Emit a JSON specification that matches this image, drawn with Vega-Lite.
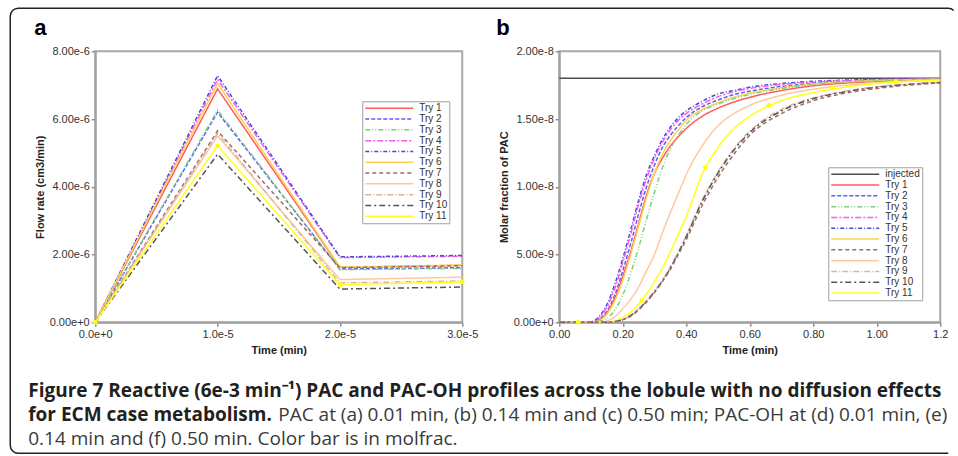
{
  "$schema": "https://vega.github.io/schema/vega-lite/v6.json",
  "background": "white",
  "padding": {"left": 9.25, "top": 7.25, "right": 0, "bottom": 0},
  "bounds": "flush",
  "columns": 2,
  "spacing": {"row": 40, "column": 97},
  "config": {
    "view": {"stroke": "#a8a8a8", "strokeWidth": 2},
    "axis": {
      "domainColor": "#a0a0a0", "domainWidth": 2, "tickColor": "#909090", "tickWidth": 1.5, "tickSize": 4,
      "labelFont": "Liberation Sans", "labelFontSize": 11, "labelColor": "#333333", "labelPadding": 2,
      "labelFlush": false, "labelOverlap": false,
      "titleFont": "Liberation Sans", "titleFontSize": 11, "titleFontWeight": "bold", "titleColor": "#222222",
      "grid": false
    },
    "title": {"font": "Liberation Sans", "fontSize": 22, "fontWeight": "bold", "color": "#000000", "anchor": "start", "baseline": "alphabetic"},
    "line": {"strokeWidth": 1.5}
  },
  "resolve": {
    "scale": {"color": "independent", "strokeDash": "independent"},
    "legend": {"color": "independent", "strokeDash": "independent"}
  },
  "datasets": {
    "flow": [
      {"s": "Try 1", "t": 0, "q": 0}, {"s": "Try 1", "t": 1e-5, "q": 6.89e-6}, {"s": "Try 1", "t": 2e-5, "q": 1.62e-6}, {"s": "Try 1", "t": 3e-5, "q": 1.68e-6},
      {"s": "Try 2", "t": 0, "q": 0}, {"s": "Try 2", "t": 1e-5, "q": 6.2e-6}, {"s": "Try 2", "t": 2e-5, "q": 1.57e-6}, {"s": "Try 2", "t": 3e-5, "q": 1.61e-6},
      {"s": "Try 3", "t": 0, "q": 0}, {"s": "Try 3", "t": 1e-5, "q": 6.26e-6}, {"s": "Try 3", "t": 2e-5, "q": 1.55e-6}, {"s": "Try 3", "t": 3e-5, "q": 1.59e-6},
      {"s": "Try 4", "t": 0, "q": 0}, {"s": "Try 4", "t": 1e-5, "q": 7.17e-6}, {"s": "Try 4", "t": 2e-5, "q": 1.91e-6}, {"s": "Try 4", "t": 3e-5, "q": 1.95e-6},
      {"s": "Try 5", "t": 0, "q": 0}, {"s": "Try 5", "t": 1e-5, "q": 7.28e-6}, {"s": "Try 5", "t": 2e-5, "q": 1.93e-6}, {"s": "Try 5", "t": 3e-5, "q": 1.97e-6},
      {"s": "Try 6", "t": 0, "q": 0}, {"s": "Try 6", "t": 1e-5, "q": 7.05e-6}, {"s": "Try 6", "t": 2e-5, "q": 1.63e-6}, {"s": "Try 6", "t": 3e-5, "q": 1.69e-6},
      {"s": "Try 7", "t": 0, "q": 0}, {"s": "Try 7", "t": 1e-5, "q": 5.65e-6}, {"s": "Try 7", "t": 2e-5, "q": 1.61e-6}, {"s": "Try 7", "t": 3e-5, "q": 1.67e-6},
      {"s": "Try 8", "t": 0, "q": 0}, {"s": "Try 8", "t": 1e-5, "q": 5.5e-6}, {"s": "Try 8", "t": 2e-5, "q": 1.26e-6}, {"s": "Try 8", "t": 3e-5, "q": 1.33e-6},
      {"s": "Try 9", "t": 0, "q": 0}, {"s": "Try 9", "t": 1e-5, "q": 5.58e-6}, {"s": "Try 9", "t": 2e-5, "q": 1.16e-6}, {"s": "Try 9", "t": 3e-5, "q": 1.22e-6},
      {"s": "Try 10", "t": 0, "q": 0}, {"s": "Try 10", "t": 1e-5, "q": 4.96e-6}, {"s": "Try 10", "t": 2e-5, "q": 0.98e-6}, {"s": "Try 10", "t": 3e-5, "q": 1.04e-6},
      {"s": "Try 11", "t": 0, "q": 0}, {"s": "Try 11", "t": 1e-5, "q": 5.21e-6}, {"s": "Try 11", "t": 2e-5, "q": 1.11e-6}, {"s": "Try 11", "t": 3e-5, "q": 1.19e-6}
    ],
    "pac": [
      {"s": "injected", "t": 0, "m": 18e-9}, {"s": "injected", "t": 1.2, "m": 18e-9},
      {"s": "Try 5", "t": 0, "m": 0}, {"s": "Try 5", "t": 0.05, "m": 0}, {"s": "Try 5", "t": 0.1, "m": 0.05e-9}, {"s": "Try 5", "t": 0.125, "m": 0.4e-9}, {"s": "Try 5", "t": 0.15, "m": 1.3e-9}, {"s": "Try 5", "t": 0.175, "m": 2.8e-9}, {"s": "Try 5", "t": 0.2, "m": 4.7e-9}, {"s": "Try 5", "t": 0.225, "m": 6.8e-9}, {"s": "Try 5", "t": 0.25, "m": 9.0e-9}, {"s": "Try 5", "t": 0.275, "m": 10.9e-9}, {"s": "Try 5", "t": 0.3, "m": 12.3e-9}, {"s": "Try 5", "t": 0.325, "m": 13.5e-9}, {"s": "Try 5", "t": 0.35, "m": 14.4e-9}, {"s": "Try 5", "t": 0.375, "m": 15.1e-9}, {"s": "Try 5", "t": 0.4, "m": 15.6e-9}, {"s": "Try 5", "t": 0.45, "m": 16.3e-9}, {"s": "Try 5", "t": 0.5, "m": 16.85e-9}, {"s": "Try 5", "t": 0.55, "m": 17.1e-9}, {"s": "Try 5", "t": 0.6, "m": 17.35e-9}, {"s": "Try 5", "t": 0.7, "m": 17.62e-9}, {"s": "Try 5", "t": 0.8, "m": 17.78e-9}, {"s": "Try 5", "t": 0.9, "m": 17.87e-9}, {"s": "Try 5", "t": 1.0, "m": 17.92e-9}, {"s": "Try 5", "t": 1.1, "m": 17.95e-9}, {"s": "Try 5", "t": 1.2, "m": 17.97e-9},
      {"s": "Try 4", "t": 0, "m": 0}, {"s": "Try 4", "t": 0.05, "m": 0}, {"s": "Try 4", "t": 0.1, "m": 0.03e-9}, {"s": "Try 4", "t": 0.125, "m": 0.3e-9}, {"s": "Try 4", "t": 0.15, "m": 1.1e-9}, {"s": "Try 4", "t": 0.175, "m": 2.5e-9}, {"s": "Try 4", "t": 0.2, "m": 4.4e-9}, {"s": "Try 4", "t": 0.225, "m": 6.5e-9}, {"s": "Try 4", "t": 0.25, "m": 8.7e-9}, {"s": "Try 4", "t": 0.275, "m": 10.6e-9}, {"s": "Try 4", "t": 0.3, "m": 12.1e-9}, {"s": "Try 4", "t": 0.325, "m": 13.3e-9}, {"s": "Try 4", "t": 0.35, "m": 14.2e-9}, {"s": "Try 4", "t": 0.375, "m": 14.9e-9}, {"s": "Try 4", "t": 0.4, "m": 15.4e-9}, {"s": "Try 4", "t": 0.45, "m": 16.1e-9}, {"s": "Try 4", "t": 0.5, "m": 16.65e-9}, {"s": "Try 4", "t": 0.55, "m": 17.0e-9}, {"s": "Try 4", "t": 0.6, "m": 17.25e-9}, {"s": "Try 4", "t": 0.7, "m": 17.55e-9}, {"s": "Try 4", "t": 0.8, "m": 17.72e-9}, {"s": "Try 4", "t": 0.9, "m": 17.83e-9}, {"s": "Try 4", "t": 1.0, "m": 17.9e-9}, {"s": "Try 4", "t": 1.1, "m": 17.94e-9}, {"s": "Try 4", "t": 1.2, "m": 17.96e-9},
      {"s": "Try 2", "t": 0, "m": 0}, {"s": "Try 2", "t": 0.05, "m": 0}, {"s": "Try 2", "t": 0.1, "m": 0.02e-9}, {"s": "Try 2", "t": 0.125, "m": 0.2e-9}, {"s": "Try 2", "t": 0.15, "m": 0.8e-9}, {"s": "Try 2", "t": 0.175, "m": 2.0e-9}, {"s": "Try 2", "t": 0.2, "m": 3.8e-9}, {"s": "Try 2", "t": 0.225, "m": 5.8e-9}, {"s": "Try 2", "t": 0.25, "m": 8.0e-9}, {"s": "Try 2", "t": 0.275, "m": 10.0e-9}, {"s": "Try 2", "t": 0.3, "m": 11.6e-9}, {"s": "Try 2", "t": 0.325, "m": 12.9e-9}, {"s": "Try 2", "t": 0.35, "m": 13.8e-9}, {"s": "Try 2", "t": 0.375, "m": 14.5e-9}, {"s": "Try 2", "t": 0.4, "m": 15.1e-9}, {"s": "Try 2", "t": 0.45, "m": 15.9e-9}, {"s": "Try 2", "t": 0.5, "m": 16.4e-9}, {"s": "Try 2", "t": 0.55, "m": 16.8e-9}, {"s": "Try 2", "t": 0.6, "m": 17.05e-9}, {"s": "Try 2", "t": 0.7, "m": 17.4e-9}, {"s": "Try 2", "t": 0.8, "m": 17.62e-9}, {"s": "Try 2", "t": 0.9, "m": 17.76e-9}, {"s": "Try 2", "t": 1.0, "m": 17.85e-9}, {"s": "Try 2", "t": 1.1, "m": 17.91e-9}, {"s": "Try 2", "t": 1.2, "m": 17.94e-9},
      {"s": "Try 1", "t": 0, "m": 0}, {"s": "Try 1", "t": 0.05, "m": 0}, {"s": "Try 1", "t": 0.1, "m": 0.01e-9}, {"s": "Try 1", "t": 0.125, "m": 0.15e-9}, {"s": "Try 1", "t": 0.15, "m": 0.7e-9}, {"s": "Try 1", "t": 0.175, "m": 1.8e-9}, {"s": "Try 1", "t": 0.2, "m": 3.4e-9}, {"s": "Try 1", "t": 0.225, "m": 5.2e-9}, {"s": "Try 1", "t": 0.25, "m": 7.3e-9}, {"s": "Try 1", "t": 0.275, "m": 9.4e-9}, {"s": "Try 1", "t": 0.3, "m": 11.0e-9}, {"s": "Try 1", "t": 0.325, "m": 12.1e-9}, {"s": "Try 1", "t": 0.35, "m": 13.0e-9}, {"s": "Try 1", "t": 0.375, "m": 13.7e-9}, {"s": "Try 1", "t": 0.4, "m": 14.3e-9}, {"s": "Try 1", "t": 0.45, "m": 15.2e-9}, {"s": "Try 1", "t": 0.5, "m": 15.8e-9}, {"s": "Try 1", "t": 0.55, "m": 16.25e-9}, {"s": "Try 1", "t": 0.6, "m": 16.6e-9}, {"s": "Try 1", "t": 0.7, "m": 17.1e-9}, {"s": "Try 1", "t": 0.8, "m": 17.45e-9}, {"s": "Try 1", "t": 0.9, "m": 17.65e-9}, {"s": "Try 1", "t": 1.0, "m": 17.78e-9}, {"s": "Try 1", "t": 1.1, "m": 17.86e-9}, {"s": "Try 1", "t": 1.2, "m": 17.91e-9},
      {"s": "Try 6", "t": 0, "m": 0}, {"s": "Try 6", "t": 0.05, "m": 0}, {"s": "Try 6", "t": 0.1, "m": 0.01e-9}, {"s": "Try 6", "t": 0.125, "m": 0.12e-9}, {"s": "Try 6", "t": 0.15, "m": 0.6e-9}, {"s": "Try 6", "t": 0.175, "m": 1.6e-9}, {"s": "Try 6", "t": 0.2, "m": 3.1e-9}, {"s": "Try 6", "t": 0.225, "m": 5.0e-9}, {"s": "Try 6", "t": 0.25, "m": 7.1e-9}, {"s": "Try 6", "t": 0.275, "m": 9.2e-9}, {"s": "Try 6", "t": 0.3, "m": 11.0e-9}, {"s": "Try 6", "t": 0.325, "m": 12.4e-9}, {"s": "Try 6", "t": 0.35, "m": 13.4e-9}, {"s": "Try 6", "t": 0.375, "m": 14.2e-9}, {"s": "Try 6", "t": 0.4, "m": 14.9e-9}, {"s": "Try 6", "t": 0.45, "m": 15.7e-9}, {"s": "Try 6", "t": 0.5, "m": 16.2e-9}, {"s": "Try 6", "t": 0.55, "m": 16.6e-9}, {"s": "Try 6", "t": 0.6, "m": 16.9e-9}, {"s": "Try 6", "t": 0.7, "m": 17.3e-9}, {"s": "Try 6", "t": 0.8, "m": 17.58e-9}, {"s": "Try 6", "t": 0.9, "m": 17.74e-9}, {"s": "Try 6", "t": 1.0, "m": 17.84e-9}, {"s": "Try 6", "t": 1.1, "m": 17.9e-9}, {"s": "Try 6", "t": 1.2, "m": 17.94e-9},
      {"s": "Try 3", "t": 0, "m": 0}, {"s": "Try 3", "t": 0.05, "m": 0}, {"s": "Try 3", "t": 0.1, "m": 0}, {"s": "Try 3", "t": 0.125, "m": 0.06e-9}, {"s": "Try 3", "t": 0.15, "m": 0.3e-9}, {"s": "Try 3", "t": 0.175, "m": 0.9e-9}, {"s": "Try 3", "t": 0.2, "m": 2.0e-9}, {"s": "Try 3", "t": 0.225, "m": 3.6e-9}, {"s": "Try 3", "t": 0.25, "m": 5.5e-9}, {"s": "Try 3", "t": 0.275, "m": 7.6e-9}, {"s": "Try 3", "t": 0.3, "m": 9.6e-9}, {"s": "Try 3", "t": 0.325, "m": 11.4e-9}, {"s": "Try 3", "t": 0.35, "m": 12.8e-9}, {"s": "Try 3", "t": 0.375, "m": 13.8e-9}, {"s": "Try 3", "t": 0.4, "m": 14.6e-9}, {"s": "Try 3", "t": 0.45, "m": 15.6e-9}, {"s": "Try 3", "t": 0.5, "m": 16.1e-9}, {"s": "Try 3", "t": 0.55, "m": 16.5e-9}, {"s": "Try 3", "t": 0.6, "m": 16.8e-9}, {"s": "Try 3", "t": 0.7, "m": 17.25e-9}, {"s": "Try 3", "t": 0.8, "m": 17.55e-9}, {"s": "Try 3", "t": 0.9, "m": 17.72e-9}, {"s": "Try 3", "t": 1.0, "m": 17.82e-9}, {"s": "Try 3", "t": 1.1, "m": 17.89e-9}, {"s": "Try 3", "t": 1.2, "m": 17.93e-9},
      {"s": "Try 8", "t": 0, "m": 0}, {"s": "Try 8", "t": 0.05, "m": 0}, {"s": "Try 8", "t": 0.1, "m": 0}, {"s": "Try 8", "t": 0.125, "m": 0}, {"s": "Try 8", "t": 0.15, "m": 0.1e-9}, {"s": "Try 8", "t": 0.175, "m": 0.4e-9}, {"s": "Try 8", "t": 0.2, "m": 1.0e-9}, {"s": "Try 8", "t": 0.225, "m": 1.7e-9}, {"s": "Try 8", "t": 0.25, "m": 2.6e-9}, {"s": "Try 8", "t": 0.275, "m": 3.8e-9}, {"s": "Try 8", "t": 0.3, "m": 5.0e-9}, {"s": "Try 8", "t": 0.325, "m": 6.6e-9}, {"s": "Try 8", "t": 0.35, "m": 8.1e-9}, {"s": "Try 8", "t": 0.375, "m": 9.5e-9}, {"s": "Try 8", "t": 0.4, "m": 10.9e-9}, {"s": "Try 8", "t": 0.45, "m": 13.0e-9}, {"s": "Try 8", "t": 0.5, "m": 14.5e-9}, {"s": "Try 8", "t": 0.55, "m": 15.4e-9}, {"s": "Try 8", "t": 0.6, "m": 16.0e-9}, {"s": "Try 8", "t": 0.7, "m": 16.75e-9}, {"s": "Try 8", "t": 0.8, "m": 17.2e-9}, {"s": "Try 8", "t": 0.9, "m": 17.48e-9}, {"s": "Try 8", "t": 1.0, "m": 17.66e-9}, {"s": "Try 8", "t": 1.1, "m": 17.78e-9}, {"s": "Try 8", "t": 1.2, "m": 17.86e-9},
      {"s": "Try 11", "t": 0, "m": 0}, {"s": "Try 11", "t": 0.05, "m": 0}, {"s": "Try 11", "t": 0.1, "m": 0}, {"s": "Try 11", "t": 0.125, "m": 0}, {"s": "Try 11", "t": 0.15, "m": 0}, {"s": "Try 11", "t": 0.175, "m": 0.1e-9}, {"s": "Try 11", "t": 0.2, "m": 0.35e-9}, {"s": "Try 11", "t": 0.225, "m": 0.75e-9}, {"s": "Try 11", "t": 0.25, "m": 1.35e-9}, {"s": "Try 11", "t": 0.275, "m": 2.1e-9}, {"s": "Try 11", "t": 0.3, "m": 3.0e-9}, {"s": "Try 11", "t": 0.325, "m": 4.0e-9}, {"s": "Try 11", "t": 0.35, "m": 5.2e-9}, {"s": "Try 11", "t": 0.375, "m": 6.5e-9}, {"s": "Try 11", "t": 0.4, "m": 7.8e-9}, {"s": "Try 11", "t": 0.45, "m": 10.9e-9}, {"s": "Try 11", "t": 0.5, "m": 12.9e-9}, {"s": "Try 11", "t": 0.55, "m": 14.3e-9}, {"s": "Try 11", "t": 0.6, "m": 15.2e-9}, {"s": "Try 11", "t": 0.7, "m": 16.35e-9}, {"s": "Try 11", "t": 0.8, "m": 16.95e-9}, {"s": "Try 11", "t": 0.9, "m": 17.35e-9}, {"s": "Try 11", "t": 1.0, "m": 17.62e-9}, {"s": "Try 11", "t": 1.1, "m": 17.78e-9}, {"s": "Try 11", "t": 1.2, "m": 17.87e-9},
      {"s": "Try 9", "t": 0, "m": 0}, {"s": "Try 9", "t": 0.05, "m": 0}, {"s": "Try 9", "t": 0.1, "m": 0}, {"s": "Try 9", "t": 0.125, "m": 0}, {"s": "Try 9", "t": 0.15, "m": 0}, {"s": "Try 9", "t": 0.175, "m": 0.05e-9}, {"s": "Try 9", "t": 0.2, "m": 0.2e-9}, {"s": "Try 9", "t": 0.225, "m": 0.5e-9}, {"s": "Try 9", "t": 0.25, "m": 1.0e-9}, {"s": "Try 9", "t": 0.275, "m": 1.6e-9}, {"s": "Try 9", "t": 0.3, "m": 2.3e-9}, {"s": "Try 9", "t": 0.325, "m": 3.1e-9}, {"s": "Try 9", "t": 0.35, "m": 4.1e-9}, {"s": "Try 9", "t": 0.375, "m": 5.2e-9}, {"s": "Try 9", "t": 0.4, "m": 6.4e-9}, {"s": "Try 9", "t": 0.45, "m": 9.0e-9}, {"s": "Try 9", "t": 0.5, "m": 11.1e-9}, {"s": "Try 9", "t": 0.55, "m": 12.8e-9}, {"s": "Try 9", "t": 0.6, "m": 14.1e-9}, {"s": "Try 9", "t": 0.7, "m": 15.7e-9}, {"s": "Try 9", "t": 0.8, "m": 16.55e-9}, {"s": "Try 9", "t": 0.9, "m": 17.05e-9}, {"s": "Try 9", "t": 1.0, "m": 17.38e-9}, {"s": "Try 9", "t": 1.1, "m": 17.58e-9}, {"s": "Try 9", "t": 1.2, "m": 17.72e-9},
      {"s": "Try 10", "t": 0, "m": 0}, {"s": "Try 10", "t": 0.05, "m": 0}, {"s": "Try 10", "t": 0.1, "m": 0}, {"s": "Try 10", "t": 0.125, "m": 0}, {"s": "Try 10", "t": 0.15, "m": 0}, {"s": "Try 10", "t": 0.175, "m": 0.05e-9}, {"s": "Try 10", "t": 0.2, "m": 0.2e-9}, {"s": "Try 10", "t": 0.225, "m": 0.5e-9}, {"s": "Try 10", "t": 0.25, "m": 0.95e-9}, {"s": "Try 10", "t": 0.275, "m": 1.55e-9}, {"s": "Try 10", "t": 0.3, "m": 2.25e-9}, {"s": "Try 10", "t": 0.325, "m": 3.05e-9}, {"s": "Try 10", "t": 0.35, "m": 4.0e-9}, {"s": "Try 10", "t": 0.375, "m": 5.1e-9}, {"s": "Try 10", "t": 0.4, "m": 6.3e-9}, {"s": "Try 10", "t": 0.45, "m": 8.9e-9}, {"s": "Try 10", "t": 0.5, "m": 11.0e-9}, {"s": "Try 10", "t": 0.55, "m": 12.7e-9}, {"s": "Try 10", "t": 0.6, "m": 14.0e-9}, {"s": "Try 10", "t": 0.7, "m": 15.6e-9}, {"s": "Try 10", "t": 0.8, "m": 16.5e-9}, {"s": "Try 10", "t": 0.9, "m": 17.0e-9}, {"s": "Try 10", "t": 1.0, "m": 17.35e-9}, {"s": "Try 10", "t": 1.1, "m": 17.55e-9}, {"s": "Try 10", "t": 1.2, "m": 17.7e-9},
      {"s": "Try 7", "t": 0, "m": 0}, {"s": "Try 7", "t": 0.05, "m": 0}, {"s": "Try 7", "t": 0.1, "m": 0}, {"s": "Try 7", "t": 0.125, "m": 0}, {"s": "Try 7", "t": 0.15, "m": 0}, {"s": "Try 7", "t": 0.175, "m": 0.04e-9}, {"s": "Try 7", "t": 0.2, "m": 0.18e-9}, {"s": "Try 7", "t": 0.225, "m": 0.45e-9}, {"s": "Try 7", "t": 0.25, "m": 0.9e-9}, {"s": "Try 7", "t": 0.275, "m": 1.5e-9}, {"s": "Try 7", "t": 0.3, "m": 2.2e-9}, {"s": "Try 7", "t": 0.325, "m": 3.0e-9}, {"s": "Try 7", "t": 0.35, "m": 3.9e-9}, {"s": "Try 7", "t": 0.375, "m": 5.0e-9}, {"s": "Try 7", "t": 0.4, "m": 6.1e-9}, {"s": "Try 7", "t": 0.45, "m": 8.6e-9}, {"s": "Try 7", "t": 0.5, "m": 10.7e-9}, {"s": "Try 7", "t": 0.55, "m": 12.4e-9}, {"s": "Try 7", "t": 0.6, "m": 13.8e-9}, {"s": "Try 7", "t": 0.7, "m": 15.4e-9}, {"s": "Try 7", "t": 0.8, "m": 16.35e-9}, {"s": "Try 7", "t": 0.9, "m": 16.9e-9}, {"s": "Try 7", "t": 1.0, "m": 17.25e-9}, {"s": "Try 7", "t": 1.1, "m": 17.5e-9}, {"s": "Try 7", "t": 1.2, "m": 17.65e-9}
    ],
    "pacMarks": [
      {"s": "Try 11", "t": 0.06, "m": 0}, {"s": "Try 11", "t": 0.26, "m": 1.6e-9}, {"s": "Try 11", "t": 0.46, "m": 11.4e-9},
      {"s": "Try 11", "t": 0.66, "m": 16.0e-9}, {"s": "Try 11", "t": 0.86, "m": 17.3e-9}, {"s": "Try 11", "t": 1.06, "m": 17.76e-9}
    ],
    "caption": [
      {"k": "l1", "txt": "Figure 7 Reactive (6e-3 min⁻¹) PAC and PAC-OH profiles across the lobule with no diffusion effects"},
      {"k": "l2b", "txt": "for ECM case metabolism."},
      {"k": "l2n", "txt": "PAC at (a) 0.01 min, (b) 0.14 min and (c) 0.50 min; PAC-OH at (d) 0.01 min, (e)"},
      {"k": "l3n", "txt": "0.14 min and (f) 0.50 min. Color bar is in molfrac."}
    ]
  },
  "concat": [
    {
      "width": 367,
      "height": 271,
      "title": {"text": "a", "dx": 0, "offset": 5},
      "data": {"name": "flow"},
      "layer": [
        {
          "mark": {"type": "line", "strokeWidth": 1.5},
          "encoding": {
            "x": {"field": "t", "type": "quantitative", "scale": {"domain": [0, 3e-5], "nice": false},
                  "axis": {"title": "Time (min)", "values": [0, 1e-5, 2e-5, 3e-5], "format": ".1e", "titlePadding": 5}},
            "y": {"field": "q", "type": "quantitative", "scale": {"domain": [0, 8e-6], "nice": false},
                  "axis": {"title": "Flow rate (cm3/min)", "values": [0, 2e-6, 4e-6, 6e-6, 8e-6], "format": ".2e", "titlePadding": 4}},
            "color": {"field": "s", "type": "nominal",
              "scale": {"domain": ["Try 1", "Try 2", "Try 3", "Try 4", "Try 5", "Try 6", "Try 7", "Try 8", "Try 9", "Try 10", "Try 11"],
                        "range": ["#ff5c5c", "#5c5cff", "#7fd07f", "#f25cf2", "#4a4ad6", "#ffd24d", "#9c6b6b", "#ffc89e", "#d6b79c", "#555555", "#ffff1a"]},
              "legend": {"title": null, "orient": "none", "legendX": 267, "legendY": 50, "symbolType": "M-6,0H6", "symbolSize": 64, "symbolStrokeWidth": 1.5, "symbolOffset": 20, "labelOffset": 25, "labelFont": "Liberation Sans Narrow, Liberation Sans", "labelFontSize": 10, "labelColor": "#333333", "rowPadding": 0.8, "padding": 2, "strokeColor": "#a0a0a0", "fillColor": "white"}},
            "strokeDash": {"field": "s", "type": "nominal",
              "scale": {"domain": ["Try 1", "Try 2", "Try 3", "Try 4", "Try 5", "Try 6", "Try 7", "Try 8", "Try 9", "Try 10", "Try 11"],
                        "range": [[1, 0], [4, 2], [5, 2, 1, 2, 1, 2], [6, 2, 2, 2], [4, 2, 1, 2], [1, 0], [4, 3], [1, 0], [6, 2, 1, 2], [6, 3, 2, 3], [1, 0]]},
              "legend": {"title": null, "orient": "none", "legendX": 267, "legendY": 50, "symbolType": "M-6,0H6", "symbolSize": 64, "symbolStrokeWidth": 1.5, "symbolOffset": 20, "labelOffset": 25, "labelFont": "Liberation Sans Narrow, Liberation Sans", "labelFontSize": 10, "labelColor": "#333333", "rowPadding": 0.8, "padding": 2, "strokeColor": "#a0a0a0", "fillColor": "white"}}
          }
        },
        {
          "transform": [{"filter": "datum.s == 'Try 11'"}],
          "mark": {"type": "point", "filled": true, "size": 22, "color": "#ffff00", "opacity": 1},
          "encoding": {
            "x": {"field": "t", "type": "quantitative"},
            "y": {"field": "q", "type": "quantitative"}
          }
        }
      ]
    },
    {
      "width": 381,
      "height": 271,
      "title": {"text": "b", "dx": -2, "offset": 5},
      "layer": [
        {
          "data": {"name": "pac"},
          "mark": {"type": "line", "strokeWidth": 1.5, "interpolate": "monotone"},
          "encoding": {
            "x": {"field": "t", "type": "quantitative", "scale": {"domain": [0, 1.2], "nice": false},
                  "axis": {"title": "Time (min)", "values": [0, 0.2, 0.4, 0.6, 0.8, 1.0, 1.2], "labelExpr": "datum.value > 1.1 ? '1.2' : format(datum.value, '.2f')", "titlePadding": 5}},
            "y": {"field": "m", "type": "quantitative", "scale": {"domain": [0, 2e-8], "nice": false},
                  "axis": {"title": "Molar fraction of  PAC", "values": [0, 5e-9, 1e-8, 1.5e-8, 2e-8], "format": ".2e", "titlePadding": 4}},
            "color": {"field": "s", "type": "nominal",
              "scale": {"domain": ["injected", "Try 1", "Try 2", "Try 3", "Try 4", "Try 5", "Try 6", "Try 7", "Try 8", "Try 9", "Try 10", "Try 11"],
                        "range": ["#4d4d4d", "#ff5c5c", "#5c5cff", "#7fd07f", "#f25cf2", "#4a4ad6", "#ffd24d", "#9c6b6b", "#ffc89e", "#d6b79c", "#555555", "#ffff1a"]},
              "legend": {"title": null, "orient": "none", "legendX": 269, "legendY": 116, "symbolType": "M-6,0H6", "symbolSize": 64, "symbolStrokeWidth": 1.5, "symbolOffset": 20, "labelOffset": 25, "labelFont": "Liberation Sans Narrow, Liberation Sans", "labelFontSize": 10, "labelColor": "#333333", "rowPadding": 0.8, "padding": 2, "strokeColor": "#a0a0a0", "fillColor": "white"}},
            "strokeDash": {"field": "s", "type": "nominal",
              "scale": {"domain": ["injected", "Try 1", "Try 2", "Try 3", "Try 4", "Try 5", "Try 6", "Try 7", "Try 8", "Try 9", "Try 10", "Try 11"],
                        "range": [[1, 0], [1, 0], [4, 2], [5, 2, 1, 2, 1, 2], [6, 2, 2, 2], [4, 2, 1, 2], [1, 0], [4, 3], [1, 0], [6, 2, 1, 2], [6, 3, 2, 3], [1, 0]]},
              "legend": {"title": null, "orient": "none", "legendX": 269, "legendY": 116, "symbolType": "M-6,0H6", "symbolSize": 64, "symbolStrokeWidth": 1.5, "symbolOffset": 20, "labelOffset": 25, "labelFont": "Liberation Sans Narrow, Liberation Sans", "labelFontSize": 10, "labelColor": "#333333", "rowPadding": 0.8, "padding": 2, "strokeColor": "#a0a0a0", "fillColor": "white"}}
          }
        },
        {
          "data": {"name": "pacMarks"},
          "mark": {"type": "point", "filled": true, "size": 22, "color": "#ffff00", "opacity": 1},
          "encoding": {
            "x": {"field": "t", "type": "quantitative"},
            "y": {"field": "m", "type": "quantitative"}
          }
        }
      ]
    },
    {
      "width": 367,
      "height": 80,
      "view": {"stroke": null},
      "data": {"name": "caption"},
      "layer": [
        {
          "transform": [{"filter": "datum.k == 'l1'"}],
          "mark": {"type": "rect", "cornerRadius": 8, "fill": "transparent", "stroke": "#222222", "strokeWidth": 1.5, "strokeDash": [936, 448, 1500, 0]},
          "encoding": {"x": {"value": -85}, "x2": {"value": 861}, "y": {"value": -354}, "y2": {"value": 91}}
        },
        {
          "transform": [{"filter": "datum.k == 'l1'"}],
          "mark": {"type": "text", "align": "left", "baseline": "alphabetic", "font": "Open Sans", "fontSize": 19, "fontWeight": "bold", "color": "#231f20"},
          "encoding": {"text": {"field": "txt"}, "x": {"value": -67}, "y": {"value": 35}}
        },
        {
          "transform": [{"filter": "datum.k == 'l2b'"}],
          "mark": {"type": "text", "align": "left", "baseline": "alphabetic", "font": "Open Sans", "fontSize": 19, "fontWeight": "bold", "color": "#231f20"},
          "encoding": {"text": {"field": "txt"}, "x": {"value": -67}, "y": {"value": 59}}
        },
        {
          "transform": [{"filter": "datum.k == 'l2n'"}],
          "mark": {"type": "text", "align": "left", "baseline": "alphabetic", "font": "Open Sans", "fontSize": 19, "fontWeight": "normal", "color": "#3a3a3a"},
          "encoding": {"text": {"field": "txt"}, "x": {"value": 183}, "y": {"value": 59}}
        },
        {
          "transform": [{"filter": "datum.k == 'l3n'"}],
          "mark": {"type": "text", "align": "left", "baseline": "alphabetic", "font": "Open Sans", "fontSize": 19, "fontWeight": "normal", "color": "#3a3a3a"},
          "encoding": {"text": {"field": "txt"}, "x": {"value": -67}, "y": {"value": 83}}
        }
      ]
    }
  ]
}
